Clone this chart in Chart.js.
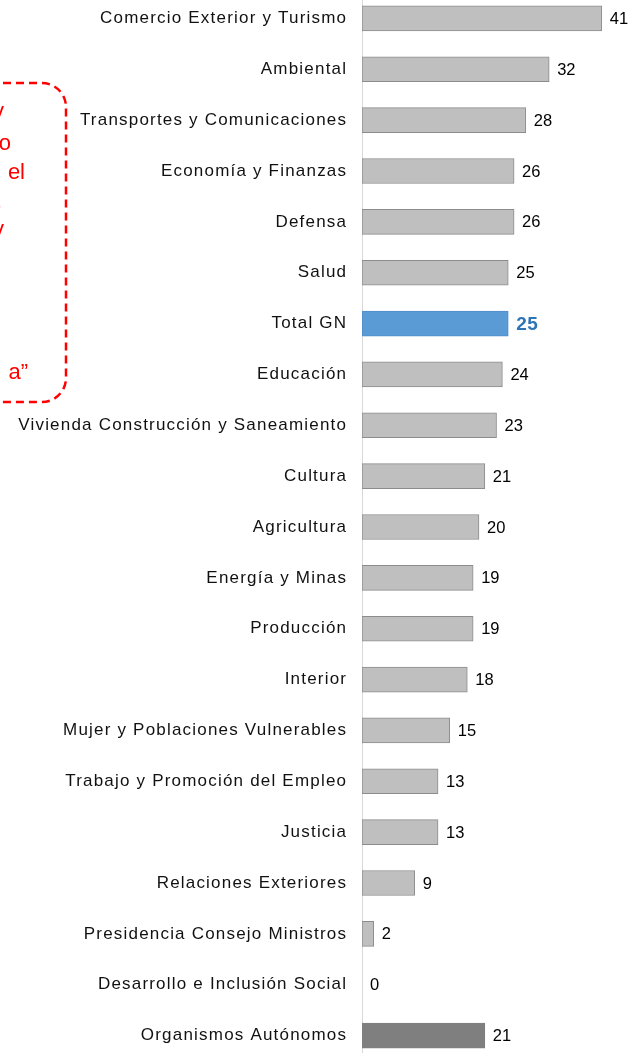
<!DOCTYPE html>
<html>
<head>
<meta charset="utf-8">
<script src="https://cdn.jsdelivr.net/npm/chart.js@4.4.1/dist/chart.umd.min.js"></script>
<style>
  html, body { margin: 0; padding: 0; background: #fff; overflow: hidden; }
  #wrap { position: relative; width: 634px; height: 1053px; overflow: hidden; }
  #myChart { position: absolute; left: 0; top: -7px; }
</style>
</head>
<body>
<div id="wrap">
  <canvas id="myChart" width="634" height="1068"></canvas>
</div>
<script>
const categories = [
  "Comercio Exterior y Turismo",
  "Ambiental",
  "Transportes y Comunicaciones",
  "Economía y Finanzas",
  "Defensa",
  "Salud",
  "Total GN",
  "Educación",
  "Vivienda Construcción y Saneamiento",
  "Cultura",
  "Agricultura",
  "Energía y Minas",
  "Producción",
  "Interior",
  "Mujer y Poblaciones Vulnerables",
  "Trabajo y Promoción del Empleo",
  "Justicia",
  "Relaciones Exteriores",
  "Presidencia Consejo Ministros",
  "Desarrollo e Inclusión Social",
  "Organismos Autónomos"
];
const values = [41, 32, 28, 26, 26, 25, 25, 24, 23, 21, 20, 19, 19, 18, 15, 13, 13, 9, 2, 0, 21];

// fragments of the red note that sits mostly off the left edge
const noteLines = ["y", "o", "el", ".", "y", "a”"];
const noteY = [112, 144, 173, 202, 230, 373];
const noteRight = [4, 11, 25, 2, 4, 28];

const totalLabel = "Total GN";
const autonomosLabel = "Organismos Autónomos";
const font = "'Liberation Sans', Arial, sans-serif";

const fillColors = categories.map(c => c === totalLabel ? "#5b9bd5" : c === autonomosLabel ? "#7f7f7f" : "#bfbfbf");
const borderColors = categories.map(c => c === totalLabel ? "#4f8ccb" : c === autonomosLabel ? "#7f7f7f" : "#8c8c8c");

// category labels in the original are a little spread out
const spacing = {
  id: "spacing",
  beforeLayout(chart) { chart.ctx.letterSpacing = "1.2px"; },
  beforeDraw(chart) { chart.ctx.letterSpacing = "1.2px"; }
};

const valueLabels = {
  id: "valueLabels",
  afterDatasetsDraw(chart) {
    const ctx = chart.ctx;
    const meta = chart.getDatasetMeta(0);
    ctx.save();
    ctx.textBaseline = "middle";
    ctx.textAlign = "left";
    meta.data.forEach((bar, i) => {
      if (categories[i] === totalLabel) {
        ctx.font = "bold 19px " + font;
        ctx.letterSpacing = "0.5px";
        ctx.fillStyle = "#2e75b6";
      } else {
        ctx.font = "16.5px " + font;
        ctx.letterSpacing = "0px";
        ctx.fillStyle = "#000";
      }
      ctx.fillText(values[i], bar.x + 8, bar.y + 1);
    });
    ctx.restore();
  }
};

const noteBox = {
  id: "noteBox",
  afterDraw(chart) {
    const ctx = chart.ctx;
    ctx.save();
    ctx.letterSpacing = "0px";
    ctx.strokeStyle = "#ff0000";
    ctx.lineWidth = 2.5;
    ctx.setLineDash([8, 5]);
    ctx.beginPath();
    ctx.roundRect(-60, 83 + 7, 126, 319, 24);
    ctx.stroke();
    ctx.setLineDash([]);
    ctx.fillStyle = "#ff0000";
    ctx.font = "22px " + font;
    ctx.textAlign = "right";
    ctx.textBaseline = "middle";
    noteLines.forEach((t, i) => ctx.fillText(t, noteRight[i], noteY[i] + 7));
    ctx.restore();
  }
};

let ctx = document.getElementById("myChart").getContext("2d");
let myChart = new Chart(ctx, {
  type: "bar",
  data: {
    labels: categories,
    datasets: [
      {
        data: values,
        backgroundColor: fillColors,
        borderColor: borderColors,
        borderWidth: 1,
        borderSkipped: false,
        barThickness: 25
      }
    ]
  },
  options: {
    indexAxis: "y",
    responsive: false,
    animation: false,
    layout: { padding: 0 },
    plugins: {
      legend: { display: false },
      tooltip: { enabled: false }
    },
    scales: {
      x: { display: false, min: 0, max: 46.5 },
      y: {
        grid: { display: false, drawTicks: false },
        border: { color: "#d9d9d9", width: 1 },
        ticks: { color: "#111", font: { size: 17, family: font }, padding: 14.8 },
        afterFit(scale) {
          scale.width = 362;
          scale.paddingTop = 0;
          scale.paddingBottom = 0;
        }
      }
    }
  },
  plugins: [spacing, valueLabels, noteBox]
});
</script>
</body>
</html>
